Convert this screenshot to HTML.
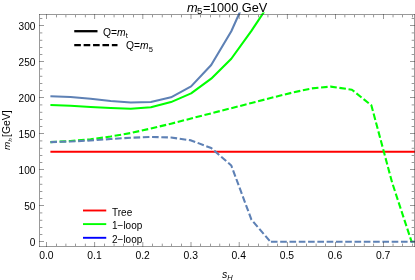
<!DOCTYPE html>
<html><head><meta charset="utf-8"><title>m5=1000 GeV</title>
<style>
html,body{margin:0;padding:0;background:#fff;}
body{width:415px;height:280px;overflow:hidden;font-family:"Liberation Sans",sans-serif;}
svg{display:block;}
text{font-family:"Liberation Sans",sans-serif;fill:#000;}
.tl{font-size:10px;}
</style></head><body>
<svg width="415" height="280" viewBox="0 0 415 280">
<rect width="415" height="280" fill="#fff"/>
<defs><clipPath id="c"><rect x="39.50" y="12.40" width="377.00" height="236.00"/></clipPath></defs>

<g clip-path="url(#c)" fill="none" stroke-linejoin="round">
<line x1="50.40" y1="151.7" x2="432.30" y2="151.7" stroke="#ff0000" stroke-width="2"/>
<polyline points="50.40,105.00 70.50,105.75 90.60,107.00 110.70,108.00 130.80,108.70 150.90,107.20 171.00,102.10 191.10,93.40 211.20,78.70 231.30,58.75 251.40,30.80 271.50,0.65" stroke="#00ff00" stroke-width="2.1"/>
<polyline points="50.40,96.20 70.50,97.00 90.60,98.75 110.70,101.00 130.80,102.50 150.90,102.00 171.00,97.30 191.10,86.40 211.20,65.00 231.30,31.25 251.40,-13.60" stroke="#5e81b5" stroke-width="2.1"/>
<polyline points="50.40,142.10 70.50,141.00 90.60,139.30 110.70,136.50 130.80,133.00 150.90,128.50 171.00,123.70 191.10,118.50 211.20,113.30 231.30,108.20 251.40,103.00 271.50,97.80 291.60,92.80 311.70,88.40 330.60,86.60 351.90,89.70 371.40,105.40 392.10,182.50 411.60,241.75 432.30,241.75" stroke="#00ff00" stroke-width="2.1" stroke-dasharray="6.58 2.645"/>
<polyline points="50.40,142.10 70.50,141.50 90.60,140.50 110.70,139.00 130.80,137.70 150.90,136.90 171.00,137.50 191.10,140.40 211.20,148.00 231.30,165.50 251.40,219.60 270.40,241.75" stroke="#5e81b5" stroke-width="2.1" stroke-dasharray="6.6 2.655"/>
<line x1="270.9" y1="241.75" x2="420" y2="241.75" stroke="#5e81b5" stroke-width="2.1" stroke-dasharray="6.63 2.66"/>
</g>
<g fill="#333" stroke="none" shape-rendering="crispEdges">
<rect x="39" y="14" width="376" height="1" fill-opacity="0.50"/>
<rect x="39" y="246" width="376" height="1" fill-opacity="0.50"/>
<rect x="39" y="14" width="1" height="233" fill-opacity="0.50"/>
<rect x="414" y="14" width="1" height="233" fill-opacity="0.50"/>
<rect x="46" y="242" width="1" height="5" fill-opacity="0.50"/>
<rect x="46" y="14" width="1" height="5" fill-opacity="0.50"/>
<rect x="56" y="244" width="1" height="2" fill-opacity="0.50"/>
<rect x="56" y="243" width="1" height="1" fill-opacity="0.18"/>
<rect x="56" y="15" width="1" height="2" fill-opacity="0.50"/>
<rect x="56" y="17" width="1" height="1" fill-opacity="0.18"/>
<rect x="65" y="244" width="1" height="2" fill-opacity="0.31"/>
<rect x="65" y="243" width="1" height="1" fill-opacity="0.11"/>
<rect x="66" y="244" width="1" height="2" fill-opacity="0.19"/>
<rect x="66" y="243" width="1" height="1" fill-opacity="0.07"/>
<rect x="65" y="15" width="1" height="2" fill-opacity="0.31"/>
<rect x="65" y="17" width="1" height="1" fill-opacity="0.11"/>
<rect x="66" y="15" width="1" height="2" fill-opacity="0.19"/>
<rect x="66" y="17" width="1" height="1" fill-opacity="0.07"/>
<rect x="75" y="244" width="1" height="2" fill-opacity="0.50"/>
<rect x="75" y="243" width="1" height="1" fill-opacity="0.18"/>
<rect x="75" y="15" width="1" height="2" fill-opacity="0.50"/>
<rect x="75" y="17" width="1" height="1" fill-opacity="0.18"/>
<rect x="84" y="244" width="1" height="2" fill-opacity="0.07"/>
<rect x="84" y="243" width="1" height="1" fill-opacity="0.02"/>
<rect x="85" y="244" width="1" height="2" fill-opacity="0.43"/>
<rect x="85" y="243" width="1" height="1" fill-opacity="0.15"/>
<rect x="84" y="15" width="1" height="2" fill-opacity="0.07"/>
<rect x="84" y="17" width="1" height="1" fill-opacity="0.02"/>
<rect x="85" y="15" width="1" height="2" fill-opacity="0.43"/>
<rect x="85" y="17" width="1" height="1" fill-opacity="0.15"/>
<rect x="94" y="242" width="1" height="5" fill-opacity="0.45"/>
<rect x="95" y="242" width="1" height="5" fill-opacity="0.05"/>
<rect x="94" y="14" width="1" height="5" fill-opacity="0.45"/>
<rect x="95" y="14" width="1" height="5" fill-opacity="0.05"/>
<rect x="104" y="244" width="1" height="2" fill-opacity="0.50"/>
<rect x="104" y="243" width="1" height="1" fill-opacity="0.18"/>
<rect x="104" y="15" width="1" height="2" fill-opacity="0.50"/>
<rect x="104" y="17" width="1" height="1" fill-opacity="0.18"/>
<rect x="113" y="244" width="1" height="2" fill-opacity="0.21"/>
<rect x="113" y="243" width="1" height="1" fill-opacity="0.07"/>
<rect x="114" y="244" width="1" height="2" fill-opacity="0.29"/>
<rect x="114" y="243" width="1" height="1" fill-opacity="0.10"/>
<rect x="113" y="15" width="1" height="2" fill-opacity="0.21"/>
<rect x="113" y="17" width="1" height="1" fill-opacity="0.07"/>
<rect x="114" y="15" width="1" height="2" fill-opacity="0.29"/>
<rect x="114" y="17" width="1" height="1" fill-opacity="0.10"/>
<rect x="123" y="244" width="1" height="2" fill-opacity="0.50"/>
<rect x="123" y="243" width="1" height="1" fill-opacity="0.18"/>
<rect x="123" y="15" width="1" height="2" fill-opacity="0.50"/>
<rect x="123" y="17" width="1" height="1" fill-opacity="0.18"/>
<rect x="133" y="244" width="1" height="2" fill-opacity="0.50"/>
<rect x="133" y="243" width="1" height="1" fill-opacity="0.18"/>
<rect x="133" y="15" width="1" height="2" fill-opacity="0.50"/>
<rect x="133" y="17" width="1" height="1" fill-opacity="0.18"/>
<rect x="142" y="242" width="1" height="5" fill-opacity="0.35"/>
<rect x="143" y="242" width="1" height="5" fill-opacity="0.15"/>
<rect x="142" y="14" width="1" height="5" fill-opacity="0.35"/>
<rect x="143" y="14" width="1" height="5" fill-opacity="0.15"/>
<rect x="152" y="244" width="1" height="2" fill-opacity="0.50"/>
<rect x="152" y="243" width="1" height="1" fill-opacity="0.18"/>
<rect x="152" y="15" width="1" height="2" fill-opacity="0.50"/>
<rect x="152" y="17" width="1" height="1" fill-opacity="0.18"/>
<rect x="161" y="244" width="1" height="2" fill-opacity="0.11"/>
<rect x="161" y="243" width="1" height="1" fill-opacity="0.04"/>
<rect x="162" y="244" width="1" height="2" fill-opacity="0.39"/>
<rect x="162" y="243" width="1" height="1" fill-opacity="0.14"/>
<rect x="161" y="15" width="1" height="2" fill-opacity="0.11"/>
<rect x="161" y="17" width="1" height="1" fill-opacity="0.04"/>
<rect x="162" y="15" width="1" height="2" fill-opacity="0.39"/>
<rect x="162" y="17" width="1" height="1" fill-opacity="0.14"/>
<rect x="171" y="244" width="1" height="2" fill-opacity="0.49"/>
<rect x="171" y="243" width="1" height="1" fill-opacity="0.17"/>
<rect x="171" y="15" width="1" height="2" fill-opacity="0.49"/>
<rect x="171" y="17" width="1" height="1" fill-opacity="0.17"/>
<rect x="181" y="244" width="1" height="2" fill-opacity="0.50"/>
<rect x="181" y="243" width="1" height="1" fill-opacity="0.18"/>
<rect x="181" y="15" width="1" height="2" fill-opacity="0.50"/>
<rect x="181" y="17" width="1" height="1" fill-opacity="0.18"/>
<rect x="190" y="242" width="1" height="5" fill-opacity="0.25"/>
<rect x="191" y="242" width="1" height="5" fill-opacity="0.25"/>
<rect x="190" y="14" width="1" height="5" fill-opacity="0.25"/>
<rect x="191" y="14" width="1" height="5" fill-opacity="0.25"/>
<rect x="200" y="244" width="1" height="2" fill-opacity="0.50"/>
<rect x="200" y="243" width="1" height="1" fill-opacity="0.18"/>
<rect x="200" y="15" width="1" height="2" fill-opacity="0.50"/>
<rect x="200" y="17" width="1" height="1" fill-opacity="0.18"/>
<rect x="210" y="244" width="1" height="2" fill-opacity="0.49"/>
<rect x="210" y="243" width="1" height="1" fill-opacity="0.17"/>
<rect x="210" y="15" width="1" height="2" fill-opacity="0.49"/>
<rect x="210" y="17" width="1" height="1" fill-opacity="0.17"/>
<rect x="219" y="244" width="1" height="2" fill-opacity="0.39"/>
<rect x="219" y="243" width="1" height="1" fill-opacity="0.14"/>
<rect x="220" y="244" width="1" height="2" fill-opacity="0.11"/>
<rect x="220" y="243" width="1" height="1" fill-opacity="0.04"/>
<rect x="219" y="15" width="1" height="2" fill-opacity="0.39"/>
<rect x="219" y="17" width="1" height="1" fill-opacity="0.14"/>
<rect x="220" y="15" width="1" height="2" fill-opacity="0.11"/>
<rect x="220" y="17" width="1" height="1" fill-opacity="0.04"/>
<rect x="229" y="244" width="1" height="2" fill-opacity="0.50"/>
<rect x="229" y="243" width="1" height="1" fill-opacity="0.18"/>
<rect x="229" y="15" width="1" height="2" fill-opacity="0.50"/>
<rect x="229" y="17" width="1" height="1" fill-opacity="0.18"/>
<rect x="238" y="242" width="1" height="5" fill-opacity="0.15"/>
<rect x="239" y="242" width="1" height="5" fill-opacity="0.35"/>
<rect x="238" y="14" width="1" height="5" fill-opacity="0.15"/>
<rect x="239" y="14" width="1" height="5" fill-opacity="0.35"/>
<rect x="248" y="244" width="1" height="2" fill-opacity="0.50"/>
<rect x="248" y="243" width="1" height="1" fill-opacity="0.18"/>
<rect x="248" y="15" width="1" height="2" fill-opacity="0.50"/>
<rect x="248" y="17" width="1" height="1" fill-opacity="0.18"/>
<rect x="258" y="244" width="1" height="2" fill-opacity="0.50"/>
<rect x="258" y="243" width="1" height="1" fill-opacity="0.18"/>
<rect x="258" y="15" width="1" height="2" fill-opacity="0.50"/>
<rect x="258" y="17" width="1" height="1" fill-opacity="0.18"/>
<rect x="267" y="244" width="1" height="2" fill-opacity="0.29"/>
<rect x="267" y="243" width="1" height="1" fill-opacity="0.10"/>
<rect x="268" y="244" width="1" height="2" fill-opacity="0.21"/>
<rect x="268" y="243" width="1" height="1" fill-opacity="0.07"/>
<rect x="267" y="15" width="1" height="2" fill-opacity="0.29"/>
<rect x="267" y="17" width="1" height="1" fill-opacity="0.10"/>
<rect x="268" y="15" width="1" height="2" fill-opacity="0.21"/>
<rect x="268" y="17" width="1" height="1" fill-opacity="0.07"/>
<rect x="277" y="244" width="1" height="2" fill-opacity="0.50"/>
<rect x="277" y="243" width="1" height="1" fill-opacity="0.18"/>
<rect x="277" y="15" width="1" height="2" fill-opacity="0.50"/>
<rect x="277" y="17" width="1" height="1" fill-opacity="0.18"/>
<rect x="286" y="242" width="1" height="5" fill-opacity="0.05"/>
<rect x="287" y="242" width="1" height="5" fill-opacity="0.45"/>
<rect x="286" y="14" width="1" height="5" fill-opacity="0.05"/>
<rect x="287" y="14" width="1" height="5" fill-opacity="0.45"/>
<rect x="296" y="244" width="1" height="2" fill-opacity="0.43"/>
<rect x="296" y="243" width="1" height="1" fill-opacity="0.15"/>
<rect x="297" y="244" width="1" height="2" fill-opacity="0.07"/>
<rect x="297" y="243" width="1" height="1" fill-opacity="0.02"/>
<rect x="296" y="15" width="1" height="2" fill-opacity="0.43"/>
<rect x="296" y="17" width="1" height="1" fill-opacity="0.15"/>
<rect x="297" y="15" width="1" height="2" fill-opacity="0.07"/>
<rect x="297" y="17" width="1" height="1" fill-opacity="0.02"/>
<rect x="306" y="244" width="1" height="2" fill-opacity="0.50"/>
<rect x="306" y="243" width="1" height="1" fill-opacity="0.18"/>
<rect x="306" y="15" width="1" height="2" fill-opacity="0.50"/>
<rect x="306" y="17" width="1" height="1" fill-opacity="0.18"/>
<rect x="315" y="244" width="1" height="2" fill-opacity="0.19"/>
<rect x="315" y="243" width="1" height="1" fill-opacity="0.07"/>
<rect x="316" y="244" width="1" height="2" fill-opacity="0.31"/>
<rect x="316" y="243" width="1" height="1" fill-opacity="0.11"/>
<rect x="315" y="15" width="1" height="2" fill-opacity="0.19"/>
<rect x="315" y="17" width="1" height="1" fill-opacity="0.07"/>
<rect x="316" y="15" width="1" height="2" fill-opacity="0.31"/>
<rect x="316" y="17" width="1" height="1" fill-opacity="0.11"/>
<rect x="325" y="244" width="1" height="2" fill-opacity="0.50"/>
<rect x="325" y="243" width="1" height="1" fill-opacity="0.18"/>
<rect x="325" y="15" width="1" height="2" fill-opacity="0.50"/>
<rect x="325" y="17" width="1" height="1" fill-opacity="0.18"/>
<rect x="335" y="242" width="1" height="5" fill-opacity="0.50"/>
<rect x="335" y="14" width="1" height="5" fill-opacity="0.50"/>
<rect x="344" y="244" width="1" height="2" fill-opacity="0.33"/>
<rect x="344" y="243" width="1" height="1" fill-opacity="0.12"/>
<rect x="345" y="244" width="1" height="2" fill-opacity="0.17"/>
<rect x="345" y="243" width="1" height="1" fill-opacity="0.06"/>
<rect x="344" y="15" width="1" height="2" fill-opacity="0.33"/>
<rect x="344" y="17" width="1" height="1" fill-opacity="0.12"/>
<rect x="345" y="15" width="1" height="2" fill-opacity="0.17"/>
<rect x="345" y="17" width="1" height="1" fill-opacity="0.06"/>
<rect x="354" y="244" width="1" height="2" fill-opacity="0.50"/>
<rect x="354" y="243" width="1" height="1" fill-opacity="0.18"/>
<rect x="354" y="15" width="1" height="2" fill-opacity="0.50"/>
<rect x="354" y="17" width="1" height="1" fill-opacity="0.18"/>
<rect x="363" y="244" width="1" height="2" fill-opacity="0.09"/>
<rect x="363" y="243" width="1" height="1" fill-opacity="0.03"/>
<rect x="364" y="244" width="1" height="2" fill-opacity="0.41"/>
<rect x="364" y="243" width="1" height="1" fill-opacity="0.14"/>
<rect x="363" y="15" width="1" height="2" fill-opacity="0.09"/>
<rect x="363" y="17" width="1" height="1" fill-opacity="0.03"/>
<rect x="364" y="15" width="1" height="2" fill-opacity="0.41"/>
<rect x="364" y="17" width="1" height="1" fill-opacity="0.14"/>
<rect x="373" y="244" width="1" height="2" fill-opacity="0.47"/>
<rect x="373" y="243" width="1" height="1" fill-opacity="0.16"/>
<rect x="374" y="244" width="1" height="2" fill-opacity="0.03"/>
<rect x="374" y="243" width="1" height="1" fill-opacity="0.01"/>
<rect x="373" y="15" width="1" height="2" fill-opacity="0.47"/>
<rect x="373" y="17" width="1" height="1" fill-opacity="0.16"/>
<rect x="374" y="15" width="1" height="2" fill-opacity="0.03"/>
<rect x="374" y="17" width="1" height="1" fill-opacity="0.01"/>
<rect x="383" y="242" width="1" height="5" fill-opacity="0.50"/>
<rect x="383" y="14" width="1" height="5" fill-opacity="0.50"/>
<rect x="392" y="244" width="1" height="2" fill-opacity="0.23"/>
<rect x="392" y="243" width="1" height="1" fill-opacity="0.08"/>
<rect x="393" y="244" width="1" height="2" fill-opacity="0.27"/>
<rect x="393" y="243" width="1" height="1" fill-opacity="0.09"/>
<rect x="392" y="15" width="1" height="2" fill-opacity="0.23"/>
<rect x="392" y="17" width="1" height="1" fill-opacity="0.08"/>
<rect x="393" y="15" width="1" height="2" fill-opacity="0.27"/>
<rect x="393" y="17" width="1" height="1" fill-opacity="0.09"/>
<rect x="402" y="244" width="1" height="2" fill-opacity="0.50"/>
<rect x="402" y="243" width="1" height="1" fill-opacity="0.18"/>
<rect x="402" y="15" width="1" height="2" fill-opacity="0.50"/>
<rect x="402" y="17" width="1" height="1" fill-opacity="0.18"/>
<rect x="412" y="244" width="1" height="2" fill-opacity="0.50"/>
<rect x="412" y="243" width="1" height="1" fill-opacity="0.18"/>
<rect x="412" y="15" width="1" height="2" fill-opacity="0.50"/>
<rect x="412" y="17" width="1" height="1" fill-opacity="0.18"/>
<rect x="39" y="241" width="5" height="1" fill-opacity="0.50"/>
<rect x="410" y="241" width="5" height="1" fill-opacity="0.50"/>
<rect x="40" y="234" width="2" height="1" fill-opacity="0.50"/>
<rect x="42" y="234" width="1" height="1" fill-opacity="0.18"/>
<rect x="412" y="234" width="2" height="1" fill-opacity="0.50"/>
<rect x="411" y="234" width="1" height="1" fill-opacity="0.18"/>
<rect x="40" y="227" width="2" height="1" fill-opacity="0.50"/>
<rect x="42" y="227" width="1" height="1" fill-opacity="0.18"/>
<rect x="412" y="227" width="2" height="1" fill-opacity="0.50"/>
<rect x="411" y="227" width="1" height="1" fill-opacity="0.18"/>
<rect x="40" y="219" width="2" height="1" fill-opacity="0.10"/>
<rect x="42" y="219" width="1" height="1" fill-opacity="0.03"/>
<rect x="40" y="220" width="2" height="1" fill-opacity="0.40"/>
<rect x="42" y="220" width="1" height="1" fill-opacity="0.14"/>
<rect x="412" y="219" width="2" height="1" fill-opacity="0.10"/>
<rect x="411" y="219" width="1" height="1" fill-opacity="0.03"/>
<rect x="412" y="220" width="2" height="1" fill-opacity="0.40"/>
<rect x="411" y="220" width="1" height="1" fill-opacity="0.14"/>
<rect x="40" y="212" width="2" height="1" fill-opacity="0.30"/>
<rect x="42" y="212" width="1" height="1" fill-opacity="0.11"/>
<rect x="40" y="213" width="2" height="1" fill-opacity="0.20"/>
<rect x="42" y="213" width="1" height="1" fill-opacity="0.07"/>
<rect x="412" y="212" width="2" height="1" fill-opacity="0.30"/>
<rect x="411" y="212" width="1" height="1" fill-opacity="0.11"/>
<rect x="412" y="213" width="2" height="1" fill-opacity="0.20"/>
<rect x="411" y="213" width="1" height="1" fill-opacity="0.07"/>
<rect x="39" y="205" width="5" height="1" fill-opacity="0.50"/>
<rect x="410" y="205" width="5" height="1" fill-opacity="0.50"/>
<rect x="40" y="198" width="2" height="1" fill-opacity="0.50"/>
<rect x="42" y="198" width="1" height="1" fill-opacity="0.18"/>
<rect x="412" y="198" width="2" height="1" fill-opacity="0.50"/>
<rect x="411" y="198" width="1" height="1" fill-opacity="0.18"/>
<rect x="40" y="191" width="2" height="1" fill-opacity="0.50"/>
<rect x="42" y="191" width="1" height="1" fill-opacity="0.18"/>
<rect x="412" y="191" width="2" height="1" fill-opacity="0.50"/>
<rect x="411" y="191" width="1" height="1" fill-opacity="0.18"/>
<rect x="40" y="183" width="2" height="1" fill-opacity="0.10"/>
<rect x="42" y="183" width="1" height="1" fill-opacity="0.03"/>
<rect x="40" y="184" width="2" height="1" fill-opacity="0.40"/>
<rect x="42" y="184" width="1" height="1" fill-opacity="0.14"/>
<rect x="412" y="183" width="2" height="1" fill-opacity="0.10"/>
<rect x="411" y="183" width="1" height="1" fill-opacity="0.03"/>
<rect x="412" y="184" width="2" height="1" fill-opacity="0.40"/>
<rect x="411" y="184" width="1" height="1" fill-opacity="0.14"/>
<rect x="40" y="176" width="2" height="1" fill-opacity="0.30"/>
<rect x="42" y="176" width="1" height="1" fill-opacity="0.11"/>
<rect x="40" y="177" width="2" height="1" fill-opacity="0.20"/>
<rect x="42" y="177" width="1" height="1" fill-opacity="0.07"/>
<rect x="412" y="176" width="2" height="1" fill-opacity="0.30"/>
<rect x="411" y="176" width="1" height="1" fill-opacity="0.11"/>
<rect x="412" y="177" width="2" height="1" fill-opacity="0.20"/>
<rect x="411" y="177" width="1" height="1" fill-opacity="0.07"/>
<rect x="39" y="169" width="5" height="1" fill-opacity="0.50"/>
<rect x="410" y="169" width="5" height="1" fill-opacity="0.50"/>
<rect x="40" y="162" width="2" height="1" fill-opacity="0.50"/>
<rect x="42" y="162" width="1" height="1" fill-opacity="0.18"/>
<rect x="412" y="162" width="2" height="1" fill-opacity="0.50"/>
<rect x="411" y="162" width="1" height="1" fill-opacity="0.18"/>
<rect x="40" y="155" width="2" height="1" fill-opacity="0.50"/>
<rect x="42" y="155" width="1" height="1" fill-opacity="0.18"/>
<rect x="412" y="155" width="2" height="1" fill-opacity="0.50"/>
<rect x="411" y="155" width="1" height="1" fill-opacity="0.18"/>
<rect x="40" y="147" width="2" height="1" fill-opacity="0.10"/>
<rect x="42" y="147" width="1" height="1" fill-opacity="0.03"/>
<rect x="40" y="148" width="2" height="1" fill-opacity="0.40"/>
<rect x="42" y="148" width="1" height="1" fill-opacity="0.14"/>
<rect x="412" y="147" width="2" height="1" fill-opacity="0.10"/>
<rect x="411" y="147" width="1" height="1" fill-opacity="0.03"/>
<rect x="412" y="148" width="2" height="1" fill-opacity="0.40"/>
<rect x="411" y="148" width="1" height="1" fill-opacity="0.14"/>
<rect x="40" y="140" width="2" height="1" fill-opacity="0.30"/>
<rect x="42" y="140" width="1" height="1" fill-opacity="0.11"/>
<rect x="40" y="141" width="2" height="1" fill-opacity="0.20"/>
<rect x="42" y="141" width="1" height="1" fill-opacity="0.07"/>
<rect x="412" y="140" width="2" height="1" fill-opacity="0.30"/>
<rect x="411" y="140" width="1" height="1" fill-opacity="0.11"/>
<rect x="412" y="141" width="2" height="1" fill-opacity="0.20"/>
<rect x="411" y="141" width="1" height="1" fill-opacity="0.07"/>
<rect x="39" y="133" width="5" height="1" fill-opacity="0.50"/>
<rect x="410" y="133" width="5" height="1" fill-opacity="0.50"/>
<rect x="40" y="126" width="2" height="1" fill-opacity="0.50"/>
<rect x="42" y="126" width="1" height="1" fill-opacity="0.18"/>
<rect x="412" y="126" width="2" height="1" fill-opacity="0.50"/>
<rect x="411" y="126" width="1" height="1" fill-opacity="0.18"/>
<rect x="40" y="119" width="2" height="1" fill-opacity="0.50"/>
<rect x="42" y="119" width="1" height="1" fill-opacity="0.18"/>
<rect x="412" y="119" width="2" height="1" fill-opacity="0.50"/>
<rect x="411" y="119" width="1" height="1" fill-opacity="0.18"/>
<rect x="40" y="111" width="2" height="1" fill-opacity="0.10"/>
<rect x="42" y="111" width="1" height="1" fill-opacity="0.03"/>
<rect x="40" y="112" width="2" height="1" fill-opacity="0.40"/>
<rect x="42" y="112" width="1" height="1" fill-opacity="0.14"/>
<rect x="412" y="111" width="2" height="1" fill-opacity="0.10"/>
<rect x="411" y="111" width="1" height="1" fill-opacity="0.03"/>
<rect x="412" y="112" width="2" height="1" fill-opacity="0.40"/>
<rect x="411" y="112" width="1" height="1" fill-opacity="0.14"/>
<rect x="40" y="104" width="2" height="1" fill-opacity="0.30"/>
<rect x="42" y="104" width="1" height="1" fill-opacity="0.10"/>
<rect x="40" y="105" width="2" height="1" fill-opacity="0.20"/>
<rect x="42" y="105" width="1" height="1" fill-opacity="0.07"/>
<rect x="412" y="104" width="2" height="1" fill-opacity="0.30"/>
<rect x="411" y="104" width="1" height="1" fill-opacity="0.10"/>
<rect x="412" y="105" width="2" height="1" fill-opacity="0.20"/>
<rect x="411" y="105" width="1" height="1" fill-opacity="0.07"/>
<rect x="39" y="97" width="5" height="1" fill-opacity="0.50"/>
<rect x="410" y="97" width="5" height="1" fill-opacity="0.50"/>
<rect x="40" y="90" width="2" height="1" fill-opacity="0.50"/>
<rect x="42" y="90" width="1" height="1" fill-opacity="0.18"/>
<rect x="412" y="90" width="2" height="1" fill-opacity="0.50"/>
<rect x="411" y="90" width="1" height="1" fill-opacity="0.18"/>
<rect x="40" y="83" width="2" height="1" fill-opacity="0.50"/>
<rect x="42" y="83" width="1" height="1" fill-opacity="0.18"/>
<rect x="412" y="83" width="2" height="1" fill-opacity="0.50"/>
<rect x="411" y="83" width="1" height="1" fill-opacity="0.18"/>
<rect x="40" y="75" width="2" height="1" fill-opacity="0.10"/>
<rect x="42" y="75" width="1" height="1" fill-opacity="0.03"/>
<rect x="40" y="76" width="2" height="1" fill-opacity="0.40"/>
<rect x="42" y="76" width="1" height="1" fill-opacity="0.14"/>
<rect x="412" y="75" width="2" height="1" fill-opacity="0.10"/>
<rect x="411" y="75" width="1" height="1" fill-opacity="0.03"/>
<rect x="412" y="76" width="2" height="1" fill-opacity="0.40"/>
<rect x="411" y="76" width="1" height="1" fill-opacity="0.14"/>
<rect x="40" y="68" width="2" height="1" fill-opacity="0.30"/>
<rect x="42" y="68" width="1" height="1" fill-opacity="0.10"/>
<rect x="40" y="69" width="2" height="1" fill-opacity="0.20"/>
<rect x="42" y="69" width="1" height="1" fill-opacity="0.07"/>
<rect x="412" y="68" width="2" height="1" fill-opacity="0.30"/>
<rect x="411" y="68" width="1" height="1" fill-opacity="0.10"/>
<rect x="412" y="69" width="2" height="1" fill-opacity="0.20"/>
<rect x="411" y="69" width="1" height="1" fill-opacity="0.07"/>
<rect x="39" y="61" width="5" height="1" fill-opacity="0.50"/>
<rect x="410" y="61" width="5" height="1" fill-opacity="0.50"/>
<rect x="40" y="54" width="2" height="1" fill-opacity="0.50"/>
<rect x="42" y="54" width="1" height="1" fill-opacity="0.18"/>
<rect x="412" y="54" width="2" height="1" fill-opacity="0.50"/>
<rect x="411" y="54" width="1" height="1" fill-opacity="0.18"/>
<rect x="40" y="47" width="2" height="1" fill-opacity="0.50"/>
<rect x="42" y="47" width="1" height="1" fill-opacity="0.18"/>
<rect x="412" y="47" width="2" height="1" fill-opacity="0.50"/>
<rect x="411" y="47" width="1" height="1" fill-opacity="0.18"/>
<rect x="40" y="39" width="2" height="1" fill-opacity="0.10"/>
<rect x="42" y="39" width="1" height="1" fill-opacity="0.03"/>
<rect x="40" y="40" width="2" height="1" fill-opacity="0.40"/>
<rect x="42" y="40" width="1" height="1" fill-opacity="0.14"/>
<rect x="412" y="39" width="2" height="1" fill-opacity="0.10"/>
<rect x="411" y="39" width="1" height="1" fill-opacity="0.03"/>
<rect x="412" y="40" width="2" height="1" fill-opacity="0.40"/>
<rect x="411" y="40" width="1" height="1" fill-opacity="0.14"/>
<rect x="40" y="32" width="2" height="1" fill-opacity="0.30"/>
<rect x="42" y="32" width="1" height="1" fill-opacity="0.10"/>
<rect x="40" y="33" width="2" height="1" fill-opacity="0.20"/>
<rect x="42" y="33" width="1" height="1" fill-opacity="0.07"/>
<rect x="412" y="32" width="2" height="1" fill-opacity="0.30"/>
<rect x="411" y="32" width="1" height="1" fill-opacity="0.10"/>
<rect x="412" y="33" width="2" height="1" fill-opacity="0.20"/>
<rect x="411" y="33" width="1" height="1" fill-opacity="0.07"/>
<rect x="39" y="25" width="5" height="1" fill-opacity="0.50"/>
<rect x="410" y="25" width="5" height="1" fill-opacity="0.50"/>
<rect x="40" y="18" width="2" height="1" fill-opacity="0.50"/>
<rect x="42" y="18" width="1" height="1" fill-opacity="0.18"/>
<rect x="412" y="18" width="2" height="1" fill-opacity="0.50"/>
<rect x="411" y="18" width="1" height="1" fill-opacity="0.18"/>
</g>
<filter id="f" x="0" y="0" width="415" height="280" filterUnits="userSpaceOnUse"><feOffset dx="0" dy="0"/></filter><g filter="url(#f)">
<text class="tl" x="46.40" y="259.3" text-anchor="middle" textLength="14.4" lengthAdjust="spacingAndGlyphs">0.0</text>
<text class="tl" x="94.50" y="259.3" text-anchor="middle" textLength="14.4" lengthAdjust="spacingAndGlyphs">0.1</text>
<text class="tl" x="142.60" y="259.3" text-anchor="middle" textLength="14.4" lengthAdjust="spacingAndGlyphs">0.2</text>
<text class="tl" x="190.70" y="259.3" text-anchor="middle" textLength="14.4" lengthAdjust="spacingAndGlyphs">0.3</text>
<text class="tl" x="238.80" y="259.3" text-anchor="middle" textLength="14.4" lengthAdjust="spacingAndGlyphs">0.4</text>
<text class="tl" x="286.90" y="259.3" text-anchor="middle" textLength="14.4" lengthAdjust="spacingAndGlyphs">0.5</text>
<text class="tl" x="335.00" y="259.3" text-anchor="middle" textLength="14.4" lengthAdjust="spacingAndGlyphs">0.6</text>
<text class="tl" x="383.10" y="259.3" text-anchor="middle" textLength="14.4" lengthAdjust="spacingAndGlyphs">0.7</text>
<text class="tl" x="35.4" y="246.10" text-anchor="end" textLength="5.62" lengthAdjust="spacingAndGlyphs">0</text>
<text class="tl" x="35.4" y="210.10" text-anchor="end" textLength="11.23" lengthAdjust="spacingAndGlyphs">50</text>
<text class="tl" x="35.4" y="174.10" text-anchor="end" textLength="16.85" lengthAdjust="spacingAndGlyphs">100</text>
<text class="tl" x="35.4" y="138.10" text-anchor="end" textLength="16.85" lengthAdjust="spacingAndGlyphs">150</text>
<text class="tl" x="35.4" y="102.10" text-anchor="end" textLength="16.85" lengthAdjust="spacingAndGlyphs">200</text>
<text class="tl" x="35.4" y="66.10" text-anchor="end" textLength="16.85" lengthAdjust="spacingAndGlyphs">250</text>
<text class="tl" x="35.4" y="30.10" text-anchor="end" textLength="16.85" lengthAdjust="spacingAndGlyphs">300</text>
<text y="11.8" font-size="12.8px"><tspan x="187.0" font-style="italic">m</tspan><tspan x="197.1" font-size="9.6px" dy="1.9">5</tspan><tspan x="203.1" dy="-1.9">=</tspan><tspan x="209.9" textLength="57.5" lengthAdjust="spacingAndGlyphs">1000 GeV</tspan></text>
<text x="222" y="277.5" font-size="10.5px"><tspan font-style="italic">s</tspan><tspan font-style="italic" font-size="7.5px" dy="2">H</tspan></text>
<g transform="translate(9.8,150) rotate(-90)"><text x="0" y="0" font-size="9.9px" font-style="italic">m</text><text x="8.5" y="1.9" font-size="6px" font-style="italic">h</text><text x="13.1" y="0" font-size="10.4px">[GeV]</text></g>
<line x1="74.25" y1="31.2" x2="97.5" y2="31.2" stroke="#000" stroke-width="2.3"/>
<text x="103" y="35.6" font-size="10.2px" textLength="24.8" lengthAdjust="spacingAndGlyphs">Q=<tspan font-style="italic">m</tspan><tspan font-size="7.5px" dy="2">t</tspan></text>
<line x1="74.25" y1="45" x2="117.5" y2="45" stroke="#000" stroke-width="2.25" stroke-dasharray="6.6 2.8"/>
<text x="126.1" y="49.2" font-size="10.2px" textLength="26.8" lengthAdjust="spacingAndGlyphs">Q=<tspan font-style="italic">m</tspan><tspan font-size="7.5px" dy="2.4">5</tspan></text>
<line x1="83" y1="210.50" x2="106.25" y2="210.50" stroke="#ff0000" stroke-width="1.9"/>
<text x="112" y="215.50" font-size="10px">Tree</text>
<line x1="83" y1="224.10" x2="106.25" y2="224.10" stroke="#00ff00" stroke-width="1.9"/>
<text x="112" y="229.00" font-size="10px">1−loop</text>
<line x1="83" y1="237.80" x2="106.25" y2="237.80" stroke="#0000ff" stroke-width="1.9"/>
<text x="112" y="242.70" font-size="10px">2−loop</text>
</g>
</svg></body></html>
